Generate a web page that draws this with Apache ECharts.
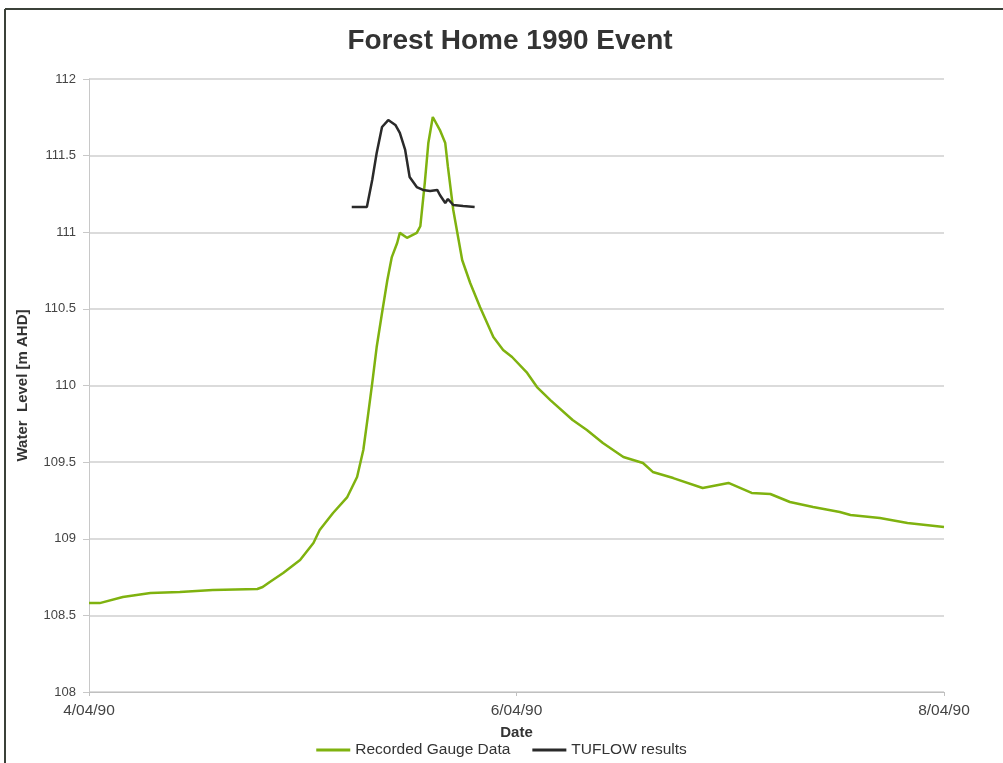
<!DOCTYPE html>
<html>
<head>
<meta charset="utf-8">
<script src="https://cdn.jsdelivr.net/npm/echarts@6/dist/echarts.min.js"></script>
<style>
  html, body { margin: 0; padding: 0; background: #fff; }
  #chart { width: 1003px; height: 763px; }
</style>
</head>
<body>
<div id="chart"></div>
<script>
// x values are hours after 4/04/90 00:00
const xTickLabels = ['4/04/90', '6/04/90', '8/04/90'];

const gaugeHours = [0, 1.2, 3.8, 6.9, 10.2, 13.9, 18.9, 19.5, 20.3, 21.8, 23.7, 25.2, 25.9, 27.4, 29.0, 30.1,
  30.8, 31.3, 31.8, 32.3, 32.9, 33.5, 34.0, 34.6, 34.9, 35.7, 36.8, 37.2, 37.7, 38.1, 38.6, 39.4, 40.0,
  40.3, 40.9, 41.3, 41.9, 42.8, 43.9, 45.4, 46.5, 47.5, 49.2, 50.3, 51.8, 54.3, 55.9, 57.7, 60.0, 62.2,
  63.3, 65.6, 68.9, 71.8, 74.4, 76.5, 78.7, 81.3, 84.3, 85.5, 88.8, 91.9, 96];
const gaugeLevel = [108.58, 108.58, 108.62, 108.646, 108.653, 108.666, 108.672, 108.685, 108.718, 108.777,
  108.861, 108.972, 109.057, 109.168, 109.272, 109.403, 109.579, 109.794, 110.016, 110.251, 110.473,
  110.688, 110.838, 110.93, 110.996, 110.964, 110.996, 111.039, 111.321, 111.582, 111.752, 111.667,
  111.582, 111.426, 111.145, 111.015, 110.819, 110.669, 110.512, 110.316, 110.232, 110.186, 110.082,
  109.99, 109.905, 109.775, 109.71, 109.625, 109.533, 109.494, 109.436, 109.396, 109.331, 109.364,
  109.299, 109.292, 109.24, 109.207, 109.175, 109.155, 109.135, 109.103, 109.077];

const tuflowHours = [29.5, 31.2, 31.8, 32.3, 32.9, 33.6, 34.4, 34.9, 35.5, 36.0, 36.8, 37.5, 38.3, 39.1,
  39.4, 40.0, 40.3, 40.9, 42.0, 43.3];
const tuflowLevel = [111.165, 111.165, 111.341, 111.517, 111.687, 111.732, 111.7, 111.648, 111.537,
  111.361, 111.295, 111.276, 111.269, 111.276, 111.243, 111.191, 111.217, 111.178, 111.171, 111.165];

const toPairs = (xs, ys) => xs.map((x, i) => [x, ys[i]]);

const chart = echarts.init(document.getElementById('chart'), null, { renderer: 'canvas' });

chart.setOption({
  backgroundColor: '#ffffff',
  animation: false,
  textStyle: { fontFamily: 'Liberation Sans, Arial, sans-serif' },
  title: {
    text: 'Forest Home 1990 Event',
    left: 505,
    textAlign: 'center',
    top: 22,
    textStyle: { fontSize: 28, fontWeight: 'bold', color: '#333333' }
  },
  grid: { left: 89, right: 59, top: 79, bottom: 71 },
  legend: {
    top: 737,
    left: 'center',
    icon: 'rect',
    itemWidth: 34,
    itemHeight: 3,
    itemGap: 22,
    textStyle: { fontSize: 15.5, color: '#333333' },
    data: ['Recorded Gauge Data', 'TUFLOW results']
  },
  xAxis: {
    type: 'value',
    min: 0,
    max: 96,
    interval: 48,
    name: 'Date',
    nameLocation: 'middle',
    nameGap: 33,
    nameTextStyle: { fontSize: 15, fontWeight: 'bold', color: '#333333' },
    axisLine: { lineStyle: { color: '#c0c0c0', width: 1 } },
    axisTick: { show: true, length: 4, lineStyle: { color: '#c0c0c0' } },
    axisLabel: {
      fontSize: 15.5,
      color: '#444444',
      margin: 11,
      formatter: v => xTickLabels[Math.round(v / 48)]
    },
    splitLine: { show: false }
  },
  yAxis: {
    type: 'value',
    min: 108,
    max: 112,
    interval: 0.5,
    name: 'Water  Level [m AHD]',
    nameLocation: 'middle',
    nameGap: 59,
    nameTextStyle: { fontSize: 15, fontWeight: 'bold', color: '#333333' },
    axisLine: { show: true, lineStyle: { color: '#c8c8c8', width: 1 } },
    axisTick: { show: true, length: 6, lineStyle: { color: '#c8c8c8' } },
    axisLabel: { fontSize: 13, color: '#444444', margin: 13 },
    splitLine: { lineStyle: { color: '#cfcfcf', width: 1.5 } }
  },
  series: [
    {
      name: 'Recorded Gauge Data',
      type: 'line',
      data: toPairs(gaugeHours, gaugeLevel),
      showSymbol: false,
      smooth: false,
      lineStyle: { color: '#7fb20f', width: 2.5 },
      itemStyle: { color: '#7fb20f' }
    },
    {
      name: 'TUFLOW results',
      type: 'line',
      data: toPairs(tuflowHours, tuflowLevel),
      showSymbol: false,
      lineStyle: { color: '#2a2a2a', width: 2.5 },
      itemStyle: { color: '#2a2a2a' }
    }
  ],
  graphic: [
    { type: 'line', shape: { x1: 5, y1: 9, x2: 1003, y2: 9 }, style: { stroke: '#3b4139', lineWidth: 2 } },
    { type: 'line', shape: { x1: 5, y1: 9, x2: 5, y2: 763 }, style: { stroke: '#3b4139', lineWidth: 2 } }
  ]
});
</script>
</body>
</html>
